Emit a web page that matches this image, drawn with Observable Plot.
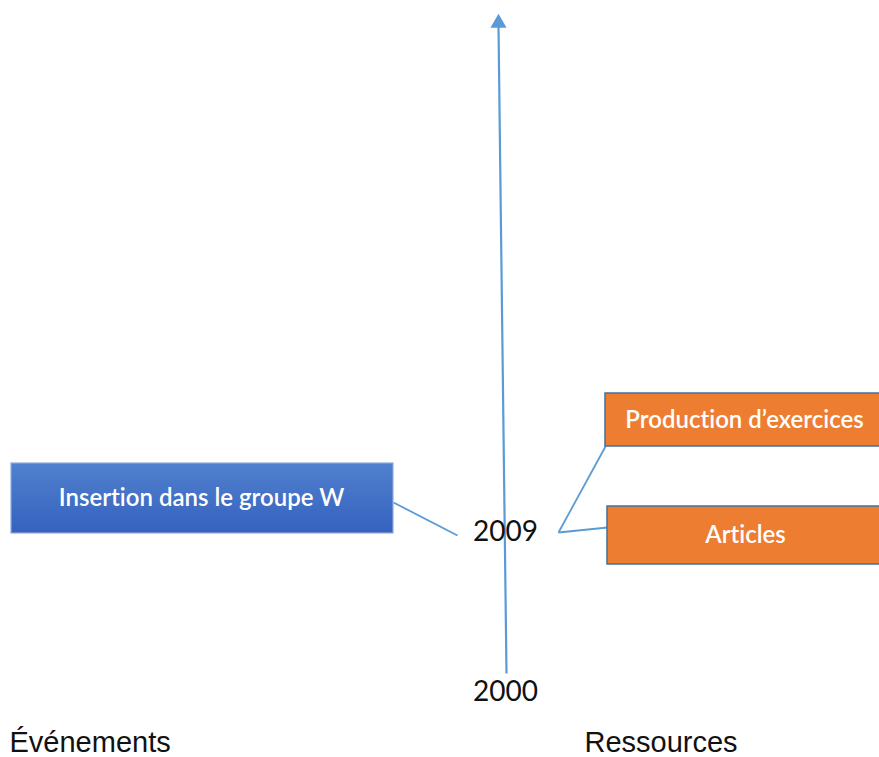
<!DOCTYPE html>
<html>
<head>
<meta charset="utf-8">
<script src="https://cdn.jsdelivr.net/npm/d3@7"></script>
<script src="https://cdn.jsdelivr.net/npm/@observablehq/plot@0.6"></script>
<style>
  html, body { margin: 0; padding: 0; background: #fff; }
  #chart svg { display: block; }
  #chart svg text { font-variant-ligatures: none; font-feature-settings: "liga" 0; }
</style>
</head>
<body>
<div id="chart"></div>
<script>
// ---- data ----
const years = [2000, 2009];
const events = ["Insertion dans le groupe W"];
const eventYears = [2009];
const resources = ["Production d’exercices", "Articles"];
const resourceYears = [2009, 2009];
const sideLabels = ["Événements", "Ressources"];

// ---- layout (pixel geometry, converted to year units through the y scale) ----
const W = 879, H = 757;
const pxPerYear = 160 / 9;
const yAt = (px) => 2000 + (692 - px) / pxPerYear; // pixel row -> year units

const eventBox = [{x1: 11, x2: 393, y1: yAt(533), y2: yAt(463), label: events[0]}];
const resourceBoxes = [
  {x1: 605, x2: 890, y1: yAt(446), y2: yAt(393), label: resources[0]},
  {x1: 607, x2: 890, y1: yAt(564), y2: yAt(506), label: resources[1]}
];
const connectors = [
  {x1: 393, y1: yAt(502), x2: 457, y2: yAt(535)},
  {x1: 558, y1: yAt(532), x2: 605, y2: yAt(446)},
  {x1: 558, y1: yAt(532), x2: 607, y2: yAt(527)}
];
const axisLine = [{x1: 506, y1: yAt(673), x2: 498, y2: yAt(26)}];
const yearLabels = years.map(y => ({x: 505, y, label: String(y)}));
const sideText = [
  {x: 9, y: yAt(742), label: sideLabels[0]},
  {x: 584, y: yAt(742), label: sideLabels[1]}
];

const chart = Plot.plot({
  width: W,
  height: H,
  margin: 0,
  x: {domain: [0, W], range: [0, W], axis: null},
  y: {domain: [yAt(H), yAt(0)], range: [H, 0], axis: null},
  marks: [
    Plot.link(axisLine, {x1: "x1", y1: "y1", x2: "x2", y2: "y2", stroke: "#5B9BD5", strokeWidth: 2.2}),
    Plot.dot([{x: 498, y: yAt(22.5)}], {x: "x", y: "y", symbol: "triangle", r: 6, fill: "#5B9BD5", stroke: "none"}),
    Plot.link(connectors, {x1: "x1", y1: "y1", x2: "x2", y2: "y2", stroke: "#5B9BD5", strokeWidth: 1.8}),
    Plot.rect(eventBox, {x1: "x1", x2: "x2", y1: "y1", y2: "y2", fill: "url(#blueGrad)", stroke: "#8FAADC", strokeWidth: 1.2}),
    Plot.rect(resourceBoxes, {x1: "x1", x2: "x2", y1: "y1", y2: "y2", fill: "#ED7D31", stroke: "#41719C", strokeWidth: 1.5}),
    Plot.text(eventBox, {x: d => (d.x1 + d.x2) / 2 - 1, y: d => (d.y1 + d.y2) / 2, text: "label", fill: "white", fontSize: 24, fontWeight: 600, fontFamily: "Lato"}),
    Plot.text(resourceBoxes, {x: d => (d.x1 + 883) / 2, y: d => (d.y1 + d.y2) / 2, text: "label", fill: "white", fontSize: 24, fontWeight: 600, fontFamily: "Lato"}),
    Plot.text(yearLabels, {x: "x", y: "y", text: "label", fill: "#111", fontSize: 28, fontFamily: "Lato"}),
    Plot.text(sideText, {x: "x", y: "y", text: "label", fill: "#111", fontSize: 29, fontFamily: "Liberation Sans, Arial", textAnchor: "start"})
  ]
});

// gradient for the blue event box
const ns = "http://www.w3.org/2000/svg";
const defs = document.createElementNS(ns, "defs");
defs.innerHTML = `<linearGradient id="blueGrad" x1="0" y1="0" x2="0" y2="1">
  <stop offset="0" stop-color="#5080CF"/>
  <stop offset="1" stop-color="#3562BE"/>
</linearGradient>`;
chart.insertBefore(defs, chart.firstChild);

document.getElementById("chart").appendChild(chart);
</script>
</body>
</html>
